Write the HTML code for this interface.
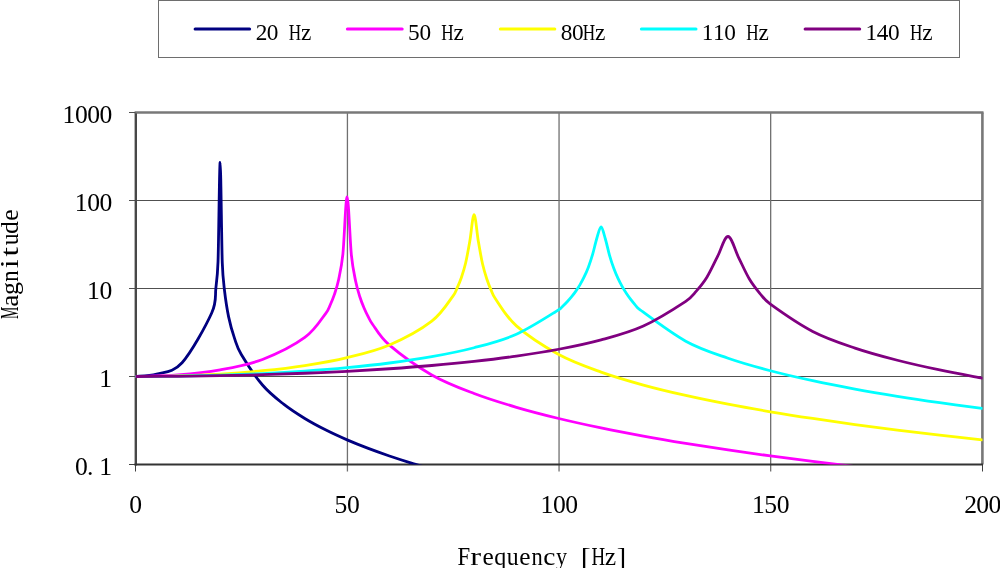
<!DOCTYPE html>
<html><head><meta charset="utf-8"><style>
html,body{margin:0;padding:0;background:#fff;width:1000px;height:568px;overflow:hidden}
svg{display:block;font-family:"Liberation Serif",serif;will-change:transform}
</style></head><body>
<svg width="1000" height="568" viewBox="0 0 1000 568">
<rect width="1000" height="568" fill="#fff"/>
<rect x="158.5" y="0.5" width="801" height="57" fill="none" stroke="#6e6e6e" stroke-width="1"/>
<line x1="195.1" y1="29" x2="249.6" y2="29" stroke="#000080" stroke-width="3" stroke-linecap="round"/>
<g font-size="23.27"><text transform="translate(261.45 39.80) scale(1.000 1)" x="-5.69">2</text><text transform="translate(272.61 39.80) scale(1.000 1)" x="-5.82">0</text><text transform="translate(294.93 39.80) scale(0.738 1)" x="-8.40">H</text><text transform="translate(306.09 39.80) scale(1.002 1)" x="-5.15">z</text></g>
<line x1="347.4" y1="29" x2="402.2" y2="29" stroke="#FF00FF" stroke-width="3" stroke-linecap="round"/>
<g font-size="23.27"><text transform="translate(414.05 39.80) scale(1.000 1)" x="-6.04">5</text><text transform="translate(425.21 39.80) scale(1.000 1)" x="-5.82">0</text><text transform="translate(447.53 39.80) scale(0.738 1)" x="-8.40">H</text><text transform="translate(458.69 39.80) scale(1.002 1)" x="-5.15">z</text></g>
<line x1="500.3" y1="29" x2="554.8" y2="29" stroke="#FFFF00" stroke-width="3" stroke-linecap="round"/>
<g font-size="23.27"><text transform="translate(566.65 39.80) scale(1.000 1)" x="-5.82">8</text><text transform="translate(577.81 39.80) scale(1.000 1)" x="-5.82">0</text><text transform="translate(588.97 39.80) scale(0.738 1)" x="-8.40">H</text><text transform="translate(600.13 39.80) scale(1.002 1)" x="-5.15">z</text></g>
<line x1="641.4" y1="29" x2="696.0" y2="29" stroke="#00FFFF" stroke-width="3" stroke-linecap="round"/>
<g font-size="23.27"><text transform="translate(707.85 39.80) scale(1.000 1)" x="-6.14">1</text><text transform="translate(719.01 39.80) scale(1.000 1)" x="-6.14">1</text><text transform="translate(730.17 39.80) scale(1.000 1)" x="-5.82">0</text><text transform="translate(752.49 39.80) scale(0.738 1)" x="-8.40">H</text><text transform="translate(763.65 39.80) scale(1.002 1)" x="-5.15">z</text></g>
<line x1="805.1" y1="29" x2="859.7" y2="29" stroke="#800080" stroke-width="3" stroke-linecap="round"/>
<g font-size="23.27"><text transform="translate(871.55 39.80) scale(1.000 1)" x="-6.14">1</text><text transform="translate(882.71 39.80) scale(1.000 1)" x="-5.86">4</text><text transform="translate(893.87 39.80) scale(1.000 1)" x="-5.82">0</text><text transform="translate(916.19 39.80) scale(0.738 1)" x="-8.40">H</text><text transform="translate(927.35 39.80) scale(1.002 1)" x="-5.15">z</text></g>
<line x1="129" y1="200.5" x2="982" y2="200.5" stroke="#505050" stroke-width="1"/>
<line x1="129" y1="288.5" x2="982" y2="288.5" stroke="#505050" stroke-width="1"/>
<line x1="129" y1="376.5" x2="982" y2="376.5" stroke="#505050" stroke-width="1"/>
<line x1="347.43" y1="112.5" x2="347.43" y2="471.5" stroke="#707070" stroke-width="1.3"/>
<line x1="559.05" y1="112.5" x2="559.05" y2="471.5" stroke="#707070" stroke-width="1.3"/>
<line x1="770.67" y1="112.5" x2="770.67" y2="471.5" stroke="#707070" stroke-width="1.3"/>
<line x1="134.6" y1="112.5" x2="983.5" y2="112.5" stroke="#787878" stroke-width="2.5"/>
<line x1="982.4" y1="112.5" x2="982.4" y2="464.5" stroke="#787878" stroke-width="2.6"/>
<line x1="129" y1="112.5" x2="135.5" y2="112.5" stroke="#505050" stroke-width="1"/>
<line x1="129" y1="464.5" x2="135.5" y2="464.5" stroke="#404040" stroke-width="1"/>
<line x1="135.5" y1="464.5" x2="135.5" y2="471.5" stroke="#404040" stroke-width="1"/>
<line x1="982.5" y1="464.5" x2="982.5" y2="471.5" stroke="#404040" stroke-width="1"/>
<line x1="135.8" y1="113.2" x2="135.8" y2="465.5" stroke="#484848" stroke-width="2.4"/>
<line x1="134.5" y1="464.5" x2="983" y2="464.5" stroke="#333333" stroke-width="2.1"/>
<defs><clipPath id="pc"><rect x="135.5" y="110" width="847" height="354.6"/></clipPath></defs>
<g clip-path="url(#pc)" fill="none" stroke-width="2.8" stroke-linejoin="round" stroke-linecap="round">
<path d="M135.50 376.50 C139.03 376.09 148.90 376.33 156.66 374.03 C164.42 371.74 172.89 372.90 182.06 362.73 C191.23 352.57 206.04 325.57 211.69 313.04 C216.99 301.26 214.86 296.12 215.92 287.56 C216.98 278.99 217.59 274.63 218.03 261.63 C218.74 240.79 219.44 162.38 220.15 162.54 C220.86 162.70 221.56 241.44 222.27 262.59 C222.72 276.07 223.32 280.43 224.38 289.47 C225.44 298.52 226.92 308.71 228.62 316.86 C230.31 325.02 232.42 332.12 234.54 338.39 C236.66 344.67 236.82 347.01 241.31 354.51 C245.97 362.29 255.42 376.75 262.48 385.03 C269.53 393.30 276.58 398.59 283.64 404.17 C290.69 409.74 297.75 414.17 304.80 418.49 C311.85 422.80 318.91 426.51 325.96 430.07 C333.02 433.64 340.07 436.82 347.12 439.87 C354.18 442.93 361.23 445.72 368.29 448.40 C375.34 451.09 382.40 453.57 389.45 455.97 C396.50 458.37 403.56 460.62 410.61 462.79 C417.67 464.96 428.25 467.97 431.77 469.00" stroke="#000080"/>
<path d="M135.50 376.50 C142.55 376.24 163.72 376.05 177.82 374.94 C191.93 373.83 206.04 372.42 220.15 369.84 C234.26 367.25 248.37 364.84 262.48 359.45 C276.58 354.05 294.22 345.19 304.80 337.46 C315.38 329.73 321.73 318.48 325.96 313.07 C328.78 309.46 328.78 308.07 330.19 304.96 C331.61 301.85 333.02 298.66 334.43 294.41 C335.84 290.15 337.25 286.16 338.66 279.44 C340.07 272.71 341.58 266.85 342.89 254.04 C344.30 240.28 345.71 196.72 347.12 196.86 C348.54 196.99 349.95 240.82 351.36 254.84 C352.68 268.02 354.18 274.01 355.59 280.98 C357.00 287.96 358.41 292.21 359.82 296.71 C361.23 301.22 362.64 304.66 364.06 308.03 C365.47 311.39 366.88 314.20 368.29 316.90 C369.70 319.60 369.99 320.83 372.52 324.22 C376.05 328.92 379.57 336.68 389.45 345.14 C399.33 353.59 417.67 366.88 431.77 374.94 C445.88 383.00 459.99 388.10 474.10 393.50 C488.21 398.89 502.32 403.16 516.42 407.32 C530.53 411.49 544.64 415.05 558.75 418.49 C572.86 421.92 586.97 424.98 601.08 427.92 C615.18 430.86 629.29 433.55 643.40 436.13 C657.51 438.71 671.62 441.11 685.73 443.42 C699.83 445.73 713.94 447.89 728.05 449.99 C742.16 452.08 756.27 454.06 770.38 455.97 C784.48 457.89 798.59 459.71 812.70 461.48 C826.81 463.25 840.92 464.94 855.02 466.58 C869.13 468.23 883.24 469.80 897.35 471.34 C911.46 472.88 925.57 474.36 939.67 475.80 C953.78 477.24 974.95 479.30 982.00 480.00" stroke="#FF00FF"/>
<path d="M135.50 376.50 C142.55 376.40 163.72 376.31 177.82 375.90 C191.93 375.49 206.04 374.90 220.15 374.03 C234.26 373.17 248.37 372.13 262.48 370.71 C276.58 369.29 290.69 367.70 304.80 365.51 C318.91 363.32 333.02 361.01 347.12 357.57 C361.23 354.14 375.34 351.00 389.45 344.92 C403.56 338.84 421.19 329.25 431.77 321.11 C442.36 312.96 448.70 301.59 452.94 296.05 C455.73 292.41 455.76 291.01 457.17 287.91 C458.58 284.81 459.99 281.60 461.40 277.46 C462.81 273.31 464.22 269.15 465.63 263.03 C467.05 256.92 468.46 248.81 469.87 240.76 C471.28 232.70 472.69 214.58 474.10 214.68 C475.51 214.78 476.92 233.12 478.33 241.35 C479.74 249.58 481.15 257.80 482.56 264.06 C483.98 270.33 485.39 274.64 486.80 278.94 C488.21 283.24 489.62 286.60 491.03 289.86 C492.44 293.12 492.50 294.55 495.26 298.47 C499.50 304.48 505.84 316.56 516.42 325.91 C527.01 335.25 544.64 346.83 558.75 354.53 C572.86 362.23 586.97 367.00 601.08 372.08 C615.18 377.17 629.29 381.14 643.40 385.03 C657.51 388.92 671.62 392.24 685.73 395.42 C699.83 398.61 713.94 401.45 728.05 404.17 C742.16 406.89 756.27 409.37 770.38 411.76 C784.48 414.15 798.59 416.36 812.70 418.49 C826.81 420.62 840.92 422.62 855.02 424.55 C869.13 426.48 883.24 428.31 897.35 430.08 C911.46 431.84 925.57 433.53 939.67 435.16 C953.78 436.79 974.95 439.09 982.00 439.87" stroke="#FFFF00"/>
<path d="M135.50 376.50 C142.55 376.45 163.72 376.40 177.82 376.18 C191.93 375.97 206.04 375.65 220.15 375.22 C234.26 374.78 248.37 374.24 262.48 373.55 C276.58 372.86 290.69 372.06 304.80 371.08 C318.91 370.10 333.02 369.00 347.12 367.66 C361.23 366.31 375.34 364.84 389.45 363.01 C403.56 361.18 417.67 359.21 431.77 356.67 C445.88 354.13 459.99 351.49 474.10 347.75 C488.21 344.01 502.32 340.57 516.42 334.24 C530.53 327.91 550.99 314.49 558.75 309.78 C561.18 308.30 561.57 307.33 562.98 305.98 C564.39 304.64 565.80 303.25 567.21 301.74 C568.63 300.22 570.04 298.65 571.45 296.92 C572.86 295.19 574.27 293.38 575.68 291.37 C577.09 289.35 578.50 287.24 579.91 284.84 C581.32 282.44 582.73 279.92 584.14 276.97 C585.56 274.02 586.97 270.91 588.38 267.16 C589.79 263.41 591.20 259.28 592.61 254.46 C594.02 249.64 595.43 242.81 596.84 238.23 C598.25 233.65 599.66 226.90 601.08 226.99 C602.49 227.08 603.90 234.05 605.31 238.77 C606.72 243.49 608.13 250.39 609.54 255.31 C610.95 260.24 612.36 264.47 613.77 268.32 C615.18 272.18 616.59 275.40 618.00 278.46 C619.42 281.52 620.83 284.15 622.24 286.66 C623.65 289.17 625.06 291.39 626.47 293.52 C627.88 295.64 629.29 297.57 630.70 299.41 C632.11 301.25 633.52 302.94 634.93 304.57 C636.35 306.19 636.64 307.33 639.17 309.16 C647.63 315.27 670.91 333.05 685.73 341.23 C700.54 349.41 713.94 353.34 728.05 358.25 C742.16 363.17 756.27 366.99 770.38 370.73 C784.48 374.47 798.59 377.64 812.70 380.70 C826.81 383.75 840.92 386.45 855.02 389.05 C869.13 391.65 883.24 394.01 897.35 396.28 C911.46 398.55 925.57 400.65 939.67 402.68 C953.78 404.70 974.95 407.47 982.00 408.43" stroke="#00FFFF"/>
<path d="M135.50 376.50 C142.55 376.47 163.72 376.44 177.82 376.30 C191.93 376.17 206.04 375.98 220.15 375.71 C234.26 375.45 248.37 375.12 262.48 374.70 C276.58 374.29 290.69 373.82 304.80 373.25 C318.91 372.68 333.02 372.04 347.12 371.29 C361.23 370.54 375.34 369.71 389.45 368.75 C403.56 367.78 417.67 366.74 431.77 365.51 C445.88 364.29 459.99 362.96 474.10 361.40 C488.21 359.84 502.32 358.16 516.42 356.14 C530.53 354.11 544.64 351.96 558.75 349.25 C572.86 346.53 586.97 343.73 601.08 339.84 C615.18 335.95 629.29 332.34 643.40 325.92 C657.51 319.50 676.91 307.11 685.73 301.30 C691.86 297.27 692.78 295.13 696.31 291.11 C699.83 287.09 703.36 282.94 706.89 277.19 C710.41 271.44 713.94 263.42 717.47 256.63 C721.00 249.85 724.52 236.33 728.05 236.49 C731.58 236.64 735.10 250.51 738.63 257.55 C742.16 264.59 745.69 272.76 749.21 278.71 C752.74 284.66 756.27 289.03 759.79 293.27 C763.32 297.50 764.23 299.69 770.38 304.12 C779.19 310.48 798.59 324.10 812.70 331.43 C826.81 338.76 840.92 343.28 855.02 348.09 C869.13 352.90 883.24 356.62 897.35 360.26 C911.46 363.91 925.57 366.99 939.67 369.95 C953.78 372.92 974.95 376.70 982.00 378.05" stroke="#800080"/>
</g>
<g font-size="25.60"><text transform="translate(69.30 122.90) scale(1.000 1)" x="-6.76">1</text><text transform="translate(81.50 122.90) scale(1.000 1)" x="-6.40">0</text><text transform="translate(93.70 122.90) scale(1.000 1)" x="-6.40">0</text><text transform="translate(105.90 122.90) scale(1.000 1)" x="-6.40">0</text></g>
<g font-size="25.60"><text transform="translate(81.50 210.90) scale(1.000 1)" x="-6.76">1</text><text transform="translate(93.70 210.90) scale(1.000 1)" x="-6.40">0</text><text transform="translate(105.90 210.90) scale(1.000 1)" x="-6.40">0</text></g>
<g font-size="25.60"><text transform="translate(93.70 298.90) scale(1.000 1)" x="-6.76">1</text><text transform="translate(105.90 298.90) scale(1.000 1)" x="-6.40">0</text></g>
<g font-size="25.60"><text transform="translate(105.90 386.90) scale(1.000 1)" x="-6.76">1</text></g>
<g font-size="25.60"><text transform="translate(81.50 474.90) scale(1.000 1)" x="-6.40">0</text><text transform="translate(90.20 474.90) scale(1.000 1)" x="-3.20">.</text><text transform="translate(105.90 474.90) scale(1.000 1)" x="-6.76">1</text></g>
<g font-size="25.60"><text transform="translate(135.60 513.00) scale(1.000 1)" x="-6.40">0</text></g>
<g font-size="25.60"><text transform="translate(341.12 513.00) scale(1.000 1)" x="-6.64">5</text><text transform="translate(353.32 513.00) scale(1.000 1)" x="-6.40">0</text></g>
<g font-size="25.60"><text transform="translate(547.15 513.00) scale(1.000 1)" x="-6.76">1</text><text transform="translate(559.35 513.00) scale(1.000 1)" x="-6.40">0</text><text transform="translate(571.55 513.00) scale(1.000 1)" x="-6.40">0</text></g>
<g font-size="25.60"><text transform="translate(758.77 513.00) scale(1.000 1)" x="-6.76">1</text><text transform="translate(770.98 513.00) scale(1.000 1)" x="-6.64">5</text><text transform="translate(783.17 513.00) scale(1.000 1)" x="-6.40">0</text></g>
<g font-size="25.60"><text transform="translate(970.40 513.00) scale(1.000 1)" x="-6.26">2</text><text transform="translate(982.60 513.00) scale(1.000 1)" x="-6.40">0</text><text transform="translate(994.80 513.00) scale(1.000 1)" x="-6.40">0</text></g>
<g font-size="25.60"><text transform="translate(463.67 564.60) scale(0.890 1)" x="-7.03">F</text><text transform="translate(475.91 564.60) scale(1.272 1)" x="-4.41">r</text><text transform="translate(488.15 564.60) scale(0.992 1)" x="-5.74">e</text><text transform="translate(500.39 564.60) scale(0.942 1)" x="-6.63">q</text><text transform="translate(512.63 564.60) scale(0.930 1)" x="-6.35">u</text><text transform="translate(524.87 564.60) scale(0.992 1)" x="-5.74">e</text><text transform="translate(537.11 564.60) scale(0.879 1)" x="-6.50">n</text><text transform="translate(549.35 564.60) scale(1.067 1)" x="-5.78">c</text><text transform="translate(561.59 564.60) scale(0.868 1)" x="-6.51">y</text><text transform="translate(586.27 564.60) scale(1.168 1)" x="-4.75">[</text><text transform="translate(598.31 564.60) scale(0.738 1)" x="-9.24">H</text><text transform="translate(610.55 564.60) scale(1.002 1)" x="-5.67">z</text><text transform="translate(620.99 564.60) scale(1.105 1)" x="-3.78">]</text></g>
<g transform="translate(18 0) rotate(-90)"><g font-size="25.60"><text transform="translate(-312.75 0.00) scale(0.541 1)" x="-11.38">M</text><text transform="translate(-300.53 0.00) scale(1.063 1)" x="-5.96">a</text><text transform="translate(-288.31 0.00) scale(1.016 1)" x="-6.71">g</text><text transform="translate(-276.09 0.00) scale(0.879 1)" x="-6.50">n</text><text transform="translate(-263.87 0.00) scale(1.262 1)" x="-3.58">i</text><text transform="translate(-251.65 0.00) scale(1.327 1)" x="-3.61">t</text><text transform="translate(-239.43 0.00) scale(0.930 1)" x="-6.35">u</text><text transform="translate(-227.21 0.00) scale(0.996 1)" x="-6.71">d</text><text transform="translate(-214.99 0.00) scale(0.992 1)" x="-5.74">e</text></g></g>
</svg>
</body></html>
